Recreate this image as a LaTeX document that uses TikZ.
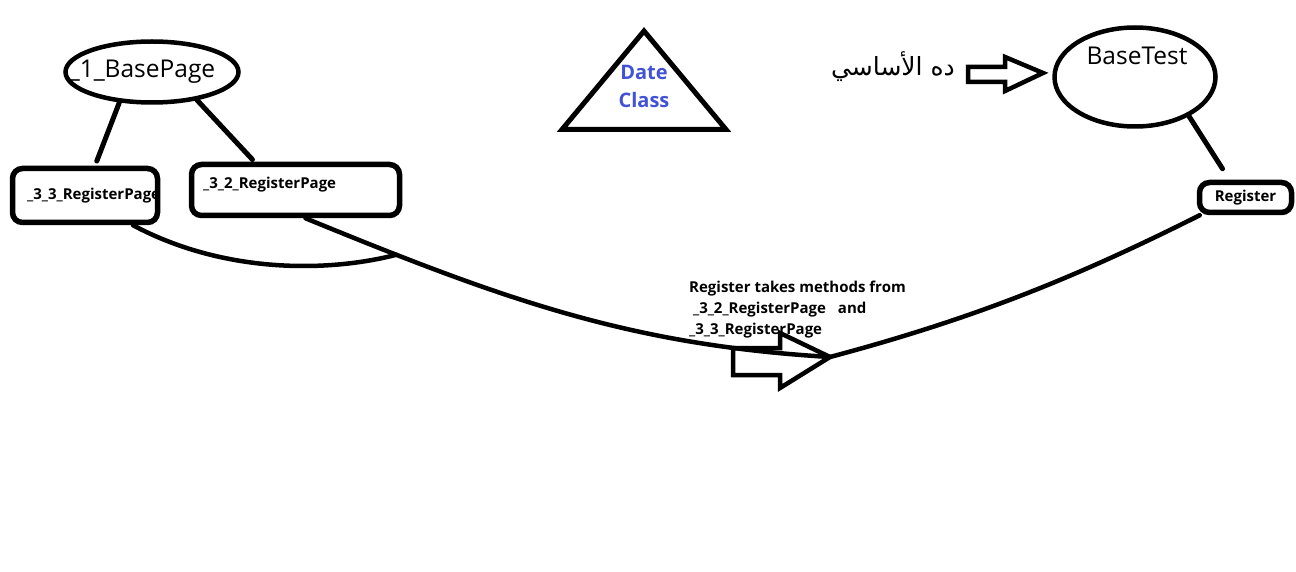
\documentclass[tikz,border=0pt]{standalone}
\usepackage{fontspec}
\setmainfont{Open Sans}
\newfontfamily\arabicfont[Script=Arabic]{DejaVu Sans}
\TeXXeTstate=1
\usetikzlibrary{shapes.geometric, positioning}

\definecolor{dateblue}{RGB}{66,82,214}

\tikzset{
  link/.style={line width=5pt},
  flow/.style={line width=4.5pt},
  pagebox/.style={draw, line width=5.5pt, rounded corners=10pt, inner sep=0pt},
  classoval/.style={draw, ellipse, line width=4.5pt, inner sep=0pt},
  boxtext/.style={font=\fontsize{15}{21}\selectfont\bfseries, inner sep=0pt},
  bigtext/.style={font=\fontsize{24.5}{28}\selectfont, inner sep=0pt},
  blockarrow/.style={draw, line width=4.5pt, line join=miter}
}

\begin{document}
\begin{tikzpicture}[x=1pt, y=-1pt, line cap=round]

\useasboundingbox (0,0) rectangle (1296,572);

% base page and its register pages
\node[classoval, minimum width=173pt, minimum height=61pt] (basepage) at (152,72) {};
\node[bigtext] (basepagetext) at (142,72) {\_1\_BasePage};

\node[pagebox, minimum width=145pt, minimum height=54pt] (page33) at (85,195.5) {};
\node[boxtext, anchor=west] (page33text) at (27,196) {\_3\_3\_RegisterPage};

\node[pagebox, minimum width=208pt, minimum height=51pt] (page32) at (295.5,190) {};
\node[boxtext, anchor=west] (page32text) at (203,185) {\_3\_2\_RegisterPage};

\draw[link, shorten >=5pt] (basepage.223) -- ([xshift=10pt]page33.north);
\draw[link, shorten >=3pt] (basepage.-32) -- ([xshift=-41pt]page32.north);

% date class
\draw[line width=5pt, line join=miter] (644,31) -- (726,129.5) -- (562,129.5) -- cycle;
\node[font=\fontsize{20}{28}\selectfont\bfseries, text=dateblue, align=center] (dateclass) at (644,86) {Date\\Class};

% base test
\node[classoval, minimum width=161pt, minimum height=99pt] (basetest) at (1135,77) {};
\node[bigtext] (basetesttext) at (1137,56) {BaseTest};
\node[font=\arabicfont\fontsize{25}{28}\selectfont, inner sep=0pt] (basenote) at (893,67) {\beginR ده الأساسي\endR};
\draw[blockarrow] (968,67) -- (1005,67) -- (1005,57) -- (1043,73) -- (1005,91) -- (1005,82) -- (968,82) -- cycle;

\node[pagebox, minimum width=92pt, minimum height=30pt, boxtext] (register) at (1245.5,197.5) {Register};
\draw[link, shorten >=13pt] (basetest.-36) -- ([xshift=-16pt]register.north);

% register takes methods from both pages
\coordinate (mid) at (830,357);
\draw[flow] ([xshift=10pt]page32.south) .. controls +(200,82) and +(-200,-12) .. (mid)
  coordinate[pos=0.16] (join);
\draw[flow] (mid) .. controls +(150,-40) and +(-120,60) .. ([xshift=3pt]register.south west);
\draw[flow] ([xshift=48pt]page33.south) .. controls +(90,48) and +(-70,18) .. (join);

\draw[blockarrow] (733,348) -- (780,348) -- (780,333) -- (mid) -- (780,388) -- (780,375) -- (733,375) -- cycle;

\node[boxtext, anchor=north west, align=left] (methods) at (689,281)
  {Register takes methods from\\
   \ \_3\_2\_RegisterPage\hspace{12pt}and\\
   \_3\_3\_RegisterPage};

\end{tikzpicture}
\end{document}
